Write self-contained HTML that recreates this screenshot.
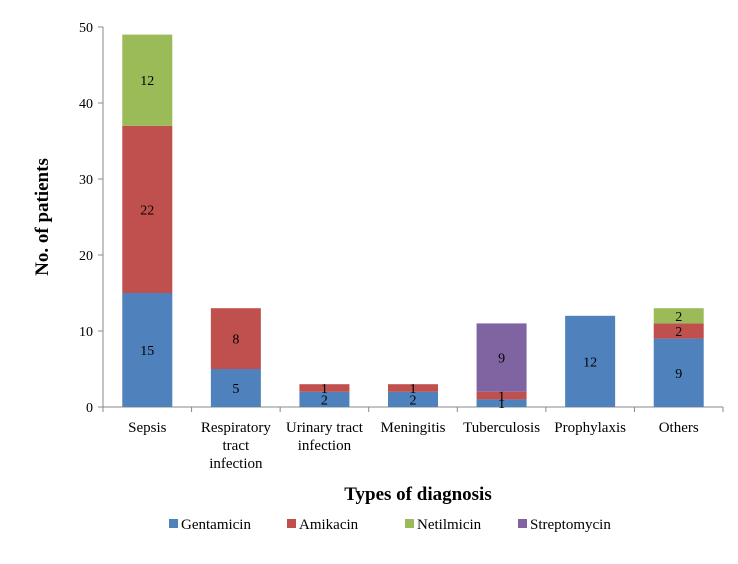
<!DOCTYPE html>
<html><head><meta charset="utf-8"><style>
body{margin:0;background:#fff;}
text{font-family:"Liberation Serif",serif;}
</style></head><body>
<svg id="c" width="738" height="559" xmlns="http://www.w3.org/2000/svg"></svg>
<script>
const categories=[["Sepsis"],["Respiratory","tract","infection"],["Urinary tract","infection"],["Meningitis"],["Tuberculosis"],["Prophylaxis"],["Others"]];
const seriesNames=["Gentamicin","Amikacin","Netilmicin","Streptomycin"];
const gentamicin=[15,5,2,2,1,12,9];
const amikacin=[22,8,1,1,1,0,2];
const netilmicin=[12,0,0,0,0,0,2];
const streptomycin=[0,0,0,0,9,0,0];
const yTicks=[0,10,20,30,40,50];
const colors=["#4f81bd","#c0504d","#9bbb59","#8064a2"];
const series=[gentamicin,amikacin,netilmicin,streptomycin];
const NS="http://www.w3.org/2000/svg";
const svg=document.getElementById('c');
const x0=103,x1=723,y0=407,y1=27,yMax=50;
const band=(x1-x0)/categories.length,bw=50;
const Y=v=>y0-(v/yMax)*(y0-y1);
const X=i=>x0+band*(i+0.5);
function el(t,a,p){const e=document.createElementNS(NS,t);for(const k in a)e.setAttribute(k,a[k]);(p||svg).appendChild(e);return e;}
// axes
let ax=el('line',{x1:x0,y1:y1,x2:x0,y2:y0,stroke:'#888'});

let bx=el('line',{x1:x0,y1:y0,x2:x1,y2:y0,stroke:'#888'});

yTicks.forEach(v=>{
 el('line',{x1:x0-5,y1:Y(v),x2:x0,y2:Y(v),stroke:'#888'});
 const t=el('text',{x:x0-10,y:Y(v)+5,'text-anchor':'end','font-size':14});t.textContent=v;
 
});
for(let i=0;i<=categories.length;i++)el('line',{x1:x0+band*i,y1:y0,x2:x0+band*i,y2:y0+5,stroke:'#888'});
categories.forEach((c,i)=>{
 let base=0;
 series.forEach((s,j)=>{
  const v=s[i];if(!v)return;
  const r=el('rect',{x:X(i)-bw/2,y:Y(base+v),width:bw,height:Y(base)-Y(base+v),fill:colors[j]});
  
  const t=el('text',{x:X(i),y:(Y(base)+Y(base+v))/2+5,'text-anchor':'middle','font-size':14});t.textContent=v;
  
  base+=v;
 });
 c.forEach((line,k)=>{
  const t=el('text',{x:X(i),y:432+k*18,'text-anchor':'middle','font-size':15});t.textContent=line;
  
 });
});
let yt=el('text',{x:48,y:217,'text-anchor':'middle','font-size':19,'font-weight':'bold',transform:'rotate(-90 48 217)'});
yt.textContent='No. of patients';
let xt=el('text',{x:418,y:500,'text-anchor':'middle','font-size':19,'font-weight':'bold'});
xt.textContent='Types of diagnosis';
const lx=[169,287,405,518];
seriesNames.forEach((n,j)=>{
 const g=el('g',{});
 el('rect',{x:lx[j],y:519,width:9,height:9,fill:colors[j]},g);
 const t=el('text',{x:lx[j]+12,y:529,'font-size':15},g);t.textContent=n;
});
</script>
</body></html>
